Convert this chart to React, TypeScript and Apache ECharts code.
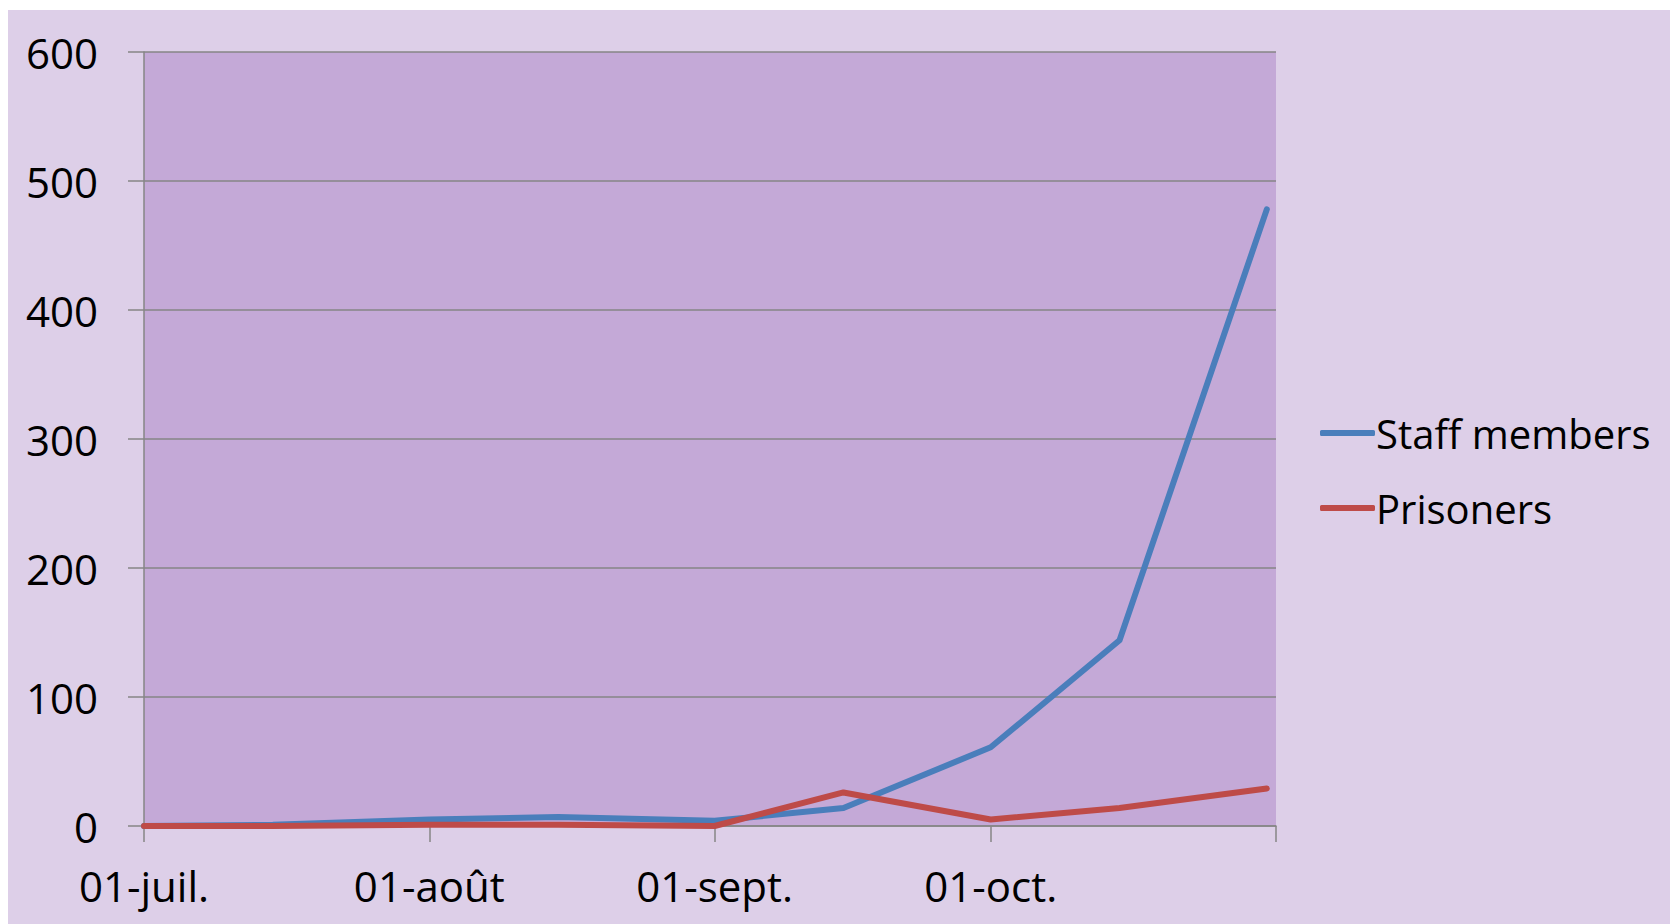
import React, { useEffect, useRef } from "react";
import * as echarts from "echarts";

// Dates of the observations (year, month index, day)
const dates: [number, number, number][] = [
  [2020, 6, 1],
  [2020, 6, 15],
  [2020, 7, 1],
  [2020, 7, 15],
  [2020, 8, 1],
  [2020, 8, 15],
  [2020, 9, 1],
  [2020, 9, 15],
  [2020, 9, 31],
];
const staffMembers = [0, 1, 5, 7, 4, 14, 61, 144, 478];
const prisoners = [0, 0, 1, 1, 0, 26, 5, 14, 29];
const monthLabels: Record<number, string> = {
  6: "01-juil.",
  7: "01-août",
  8: "01-sept.",
  9: "01-oct.",
  10: "",
};
const seriesNames = ["Staff members", "Prisoners"];

const FONT = "'Open Sans', sans-serif";

export default function App() {
  const ref = useRef<HTMLDivElement>(null);
  useEffect(() => {
    document.body.style.overflow = "hidden";
    const chart = echarts.init(ref.current!, null, { renderer: "svg" });
    const ts = dates.map(([y, m, d]) => new Date(y, m, d).getTime());
    chart.setOption({
      animation: false,
      backgroundColor: "#DDCFE8",
      grid: {
        left: 136,
        top: 42,
        right: 394,
        bottom: 98,
        show: true,
        backgroundColor: "#C4A9D7",
        borderWidth: 0,
      },
      legend: {
        orient: "vertical",
        left: 1307,
        top: 398,
        itemWidth: 55,
        itemHeight: 6,
        itemGap: 35,
        icon: "roundRect",
        data: seriesNames,
        textStyle: {
          fontFamily: FONT,
          fontSize: 40,
          color: "#000",
          lineHeight: 40,
          padding: [0, 0, 0, -4],
        },
      },
      xAxis: {
        type: "time",
        min: new Date(2020, 6, 1).getTime(),
        max: new Date(2020, 10, 1).getTime(),
        splitNumber: 4,
        axisLine: { show: true, lineStyle: { color: "#868686", width: 1.5 } },
        axisTick: { show: true, length: 16, lineStyle: { color: "#868686", width: 1.5 } },
        splitLine: { show: false },
        axisLabel: {
          fontFamily: FONT,
          fontSize: 42,
          color: "#000",
          margin: 38,
          showMinLabel: true,
          showMaxLabel: true,
          hideOverlap: false,
          formatter: (v: number) => {
            const d = new Date(v);
            if (d.getDate() !== 1) return "";
            const s = monthLabels[d.getMonth()];
            return s === undefined ? "" : s;
          },
        },
      },
      yAxis: {
        type: "value",
        min: 0,
        max: 600,
        interval: 100,
        axisLine: { show: true, lineStyle: { color: "#868686", width: 1.5 } },
        axisTick: { show: true, length: 16, lineStyle: { color: "#868686", width: 1.5 } },
        splitLine: { show: true, lineStyle: { color: "#868686", width: 1.5 } },
        axisLabel: {
          fontFamily: FONT,
          fontSize: 42,
          color: "#000",
          margin: 46,
        },
      },
      series: [
        {
          name: seriesNames[0],
          type: "line",
          data: ts.map((t, i) => [t, staffMembers[i]]),
          showSymbol: false,
          color: "#4A7EBB",
          lineStyle: { width: 6, cap: "round", join: "round" },
        },
        {
          name: seriesNames[1],
          type: "line",
          data: ts.map((t, i) => [t, prisoners[i]]),
          showSymbol: false,
          color: "#BE4B48",
          lineStyle: { width: 6, cap: "round", join: "round" },
        },
      ],
    });
    return () => chart.dispose();
  }, []);
  return (
    <div
      ref={ref}
      style={{ position: "absolute", left: 8, top: 10, width: 1662, height: 914 }}
    />
  );
}
